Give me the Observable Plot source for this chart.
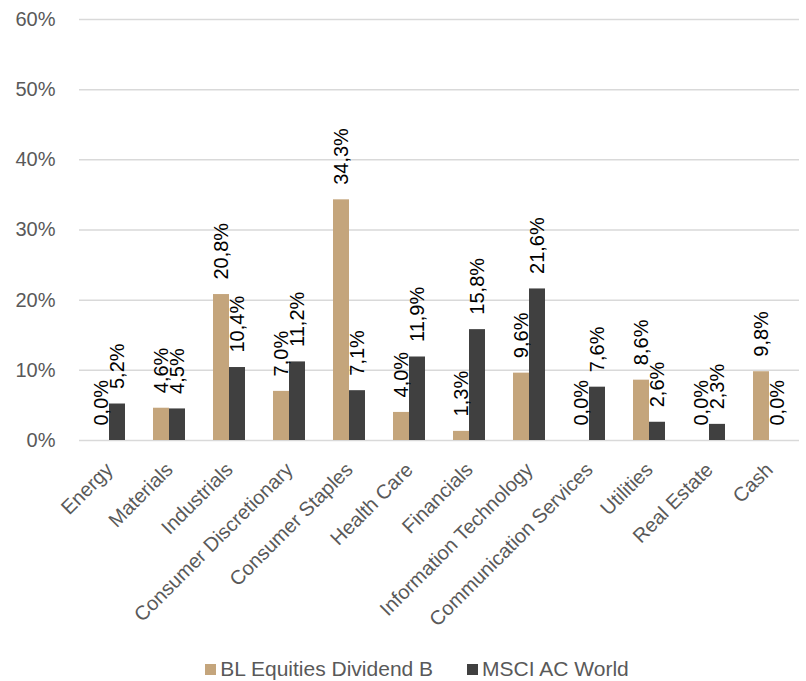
<!DOCTYPE html>
<html>
<head>
<meta charset="utf-8">
<script src="https://cdn.jsdelivr.net/npm/d3@7"></script>
<script src="https://cdn.jsdelivr.net/npm/@observablehq/plot@0.6"></script>
<style>
  html, body { margin: 0; padding: 0; background: #fff; }
  body { width: 806px; font-family: "Liberation Sans", Arial, sans-serif; }
  #legend { display: flex; justify-content: center; align-items: center; margin-top: 8px; height: 22px;
            padding-left: 28px; font-size: 21px; color: #595959; line-height: 22px; }
  .item { display: flex; align-items: center; }
  .sw { width: 11px; height: 11px; margin-right: 4px; }
  .item + .item { margin-left: 34px; }
</style>
</head>
<body>
<div id="chart"></div>
<div id="legend"></div>
<script>
const categories = ["Energy", "Materials", "Industrials", "Consumer Discretionary", "Consumer Staples",
  "Health Care", "Financials", "Information Technology", "Communication Services", "Utilities",
  "Real Estate", "Cash"];
const series = ["BL Equities Dividend B", "MSCI AC World"];
const fundValues = [0.0, 4.6, 20.8, 7.0, 34.3, 4.0, 1.3, 9.6, 0.0, 8.6, 0.0, 9.8];
const indexValues = [5.2, 4.5, 10.4, 11.2, 7.1, 11.9, 15.8, 21.6, 7.6, 2.6, 2.3, 0.0];
const yTicks = [0, 10, 20, 30, 40, 50, 60];
const colors = ["#c4a57c", "#404040"];

const data = [];
categories.forEach((c, i) => {
  data.push({cat: c, series: series[0], value: fundValues[i]});
  data.push({cat: c, series: series[1], value: indexValues[i]});
});
const fmt = v => v.toFixed(1).replace(".", ",") + "%";

const chart = Plot.plot({
  width: 806,
  height: 650,
  marginLeft: 75,
  marginRight: 3,
  marginTop: 19,
  marginBottom: 210,
  style: {fontFamily: '"Liberation Sans", Arial, sans-serif', fontSize: "20px", color: "#595959", background: "white"},
  fx: {domain: categories, padding: 0, label: null, axis: "bottom", tickRotate: -45, tickSize: 0, tickPadding: 26},
  x: {domain: series, paddingInner: 0, paddingOuter: 0.84, axis: null},
  y: {domain: [0, 60], ticks: yTicks, tickFormat: d => d + "%", tickSize: 0, tickPadding: 24, label: null},
  color: {domain: series, range: colors},
  marks: [
    Plot.gridY(yTicks, {stroke: "#d9d9d9", strokeOpacity: 1, strokeWidth: 1.5}),
    Plot.barY(data, {fx: "cat", x: "series", y: "value", fill: "series"}),
    Plot.text(data, {fx: "cat", x: "series", y: "value", text: d => fmt(d.value), rotate: -90,
      textAnchor: "start", lineAnchor: "middle", dy: -15, fontSize: 20, fill: "#000"})
  ]
});
document.getElementById("chart").appendChild(chart);

const legend = document.getElementById("legend");
series.forEach((s, i) => {
  const item = document.createElement("div");
  item.className = "item";
  const sw = document.createElement("span");
  sw.className = "sw";
  sw.style.background = colors[i];
  const t = document.createElement("span");
  t.textContent = s;
  item.appendChild(sw);
  item.appendChild(t);
  legend.appendChild(item);
});
</script>
</body>
</html>
